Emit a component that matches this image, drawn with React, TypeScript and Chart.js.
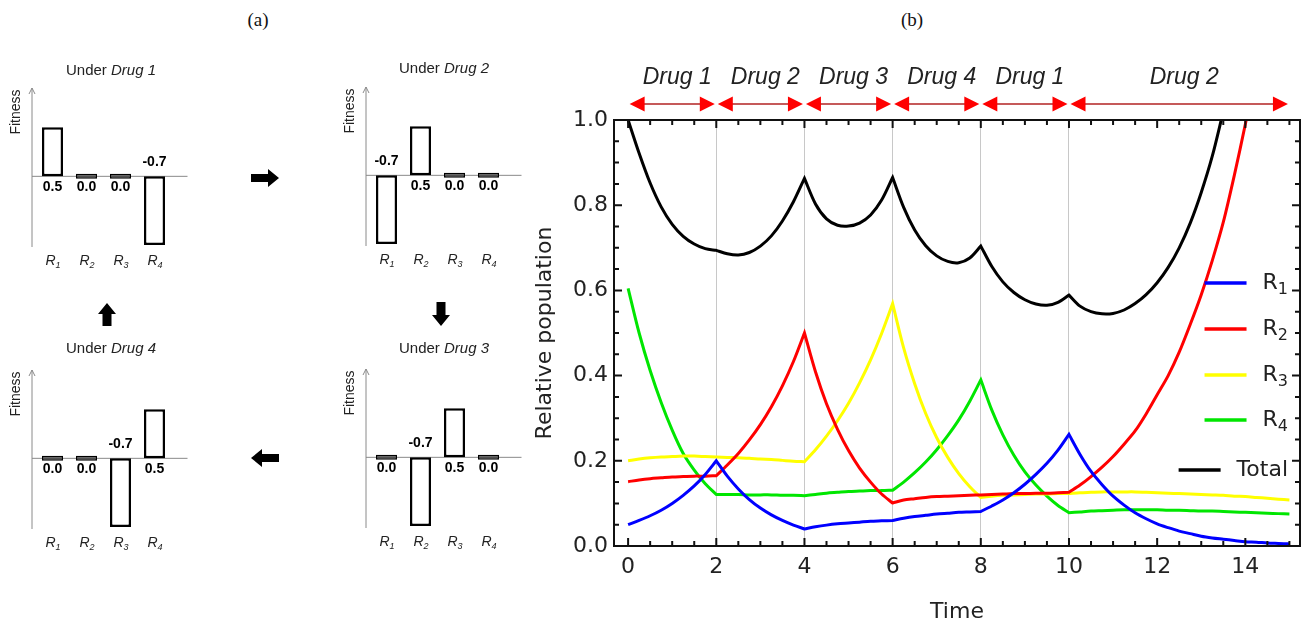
import React, { useEffect, useRef } from 'react';
import { Chart, registerables } from 'chart.js';

Chart.register(...registerables);

// ---------------- data: panel (b) ----------------
const times = [
  0, 0.25, 0.5, 0.75, 1, 1.25, 1.5, 1.75, 2,
  2.25, 2.5, 2.75, 3, 3.25, 3.5, 3.75, 4,
  4.25, 4.5, 4.75, 5, 5.25, 5.5, 5.75, 6,
  6.25, 6.5, 6.75, 7, 7.25, 7.5, 7.75, 8,
  8.25, 8.5, 8.75, 9, 9.25, 9.5, 9.75, 10,
  10.25, 10.5, 10.75, 11, 11.25, 11.5, 11.75, 12, 12.25, 12.5,
  12.75, 13, 13.25, 13.5, 13.75, 14, 14.25, 14.5, 14.75, 15,
];

const r1Values = [
  0.05, 0.06, 0.071, 0.084, 0.1, 0.119, 0.141, 0.168, 0.2,
  0.164, 0.134, 0.109, 0.089, 0.073, 0.06, 0.049, 0.04,
  0.045, 0.049, 0.052, 0.054, 0.056, 0.058, 0.059, 0.06,
  0.065, 0.069, 0.072, 0.075, 0.077, 0.079, 0.08, 0.081,
  0.094, 0.108, 0.125, 0.145, 0.168, 0.194, 0.225, 0.262,
  0.215, 0.175, 0.144, 0.117, 0.096, 0.078, 0.064, 0.052, 0.043, 0.035,
  0.029, 0.023, 0.019, 0.016, 0.013, 0.01, 0.009, 0.007, 0.006, 0.005,
];

const r2Values = [
  0.151, 0.155, 0.158, 0.16, 0.162, 0.163, 0.164, 0.164, 0.165,
  0.19, 0.217, 0.249, 0.285, 0.327, 0.376, 0.433, 0.5,
  0.409, 0.334, 0.274, 0.224, 0.183, 0.15, 0.122, 0.101,
  0.108, 0.111, 0.114, 0.116, 0.117, 0.118, 0.119, 0.12,
  0.121, 0.122, 0.123, 0.123, 0.124, 0.124, 0.125, 0.126,
  0.143, 0.163, 0.185, 0.21, 0.239, 0.27, 0.31, 0.355, 0.4, 0.455,
  0.52, 0.59, 0.67, 0.76, 0.87, 0.99, 1.12, null, null, null,
];

const r3Values = [
  0.2, 0.204, 0.207, 0.209, 0.21, 0.211, 0.211, 0.21, 0.209,
  0.208, 0.207, 0.206, 0.204, 0.203, 0.201, 0.199, 0.198,
  0.226, 0.258, 0.294, 0.335, 0.383, 0.437, 0.499, 0.569,
  0.465, 0.381, 0.311, 0.254, 0.208, 0.17, 0.139, 0.114,
  0.117, 0.119, 0.12, 0.121, 0.122, 0.122, 0.123, 0.123,
  0.125, 0.126, 0.127, 0.127, 0.127, 0.127, 0.126, 0.125, 0.124, 0.123,
  0.122, 0.121, 0.12, 0.119, 0.117, 0.116, 0.114, 0.112, 0.11, 0.108,
];

const r4Values = [
  0.605, 0.5, 0.412, 0.337, 0.272, 0.217, 0.178, 0.146, 0.121,
  0.121, 0.121, 0.12, 0.12, 0.12, 0.119, 0.119, 0.118,
  0.121, 0.124, 0.126, 0.128, 0.129, 0.13, 0.13, 0.131,
  0.15, 0.172, 0.197, 0.226, 0.259, 0.296, 0.34, 0.39,
  0.319, 0.261, 0.213, 0.174, 0.143, 0.117, 0.095, 0.078,
  0.08, 0.082, 0.083, 0.084, 0.085, 0.085, 0.085, 0.085, 0.084, 0.084,
  0.083, 0.082, 0.082, 0.081, 0.08, 0.079, 0.078, 0.077, 0.076, 0.075,
];

const totalValues = [
  1.0, 0.922, 0.852, 0.796, 0.755, 0.727, 0.709, 0.698, 0.694,
  0.686, 0.683, 0.689, 0.704, 0.728, 0.763, 0.808, 0.863,
  0.803, 0.768, 0.753, 0.751, 0.758, 0.777, 0.812, 0.865,
  0.795, 0.742, 0.705, 0.681, 0.668, 0.665, 0.676, 0.704,
  0.656, 0.62, 0.595, 0.578, 0.568, 0.565, 0.572, 0.589,
  0.563, 0.55, 0.545, 0.546, 0.554, 0.569, 0.59, 0.618, 0.654, 0.7,
  0.758, 0.83, 0.915, 1.02, null, null, null, null, null, null,
];

const seriesLabels = ['R1', 'R2', 'R3', 'R4', 'Total'];
const seriesColors = ['#0000ff', '#ff0000', '#ffff00', '#00e600', '#000000'];

const xTickValues = [0, 2, 4, 6, 8, 10, 12, 14];
const yTickValues = [0, 0.2, 0.4, 0.6, 0.8, 1.0];
const switchTimes = [2, 4, 6, 8, 10];

const drugLabels = ['Drug 1', 'Drug 2', 'Drug 3', 'Drug 4', 'Drug 1', 'Drug 2'];
const drugStarts = [0, 2, 4, 6, 8, 10];
const drugEnds = [2, 4, 6, 8, 10, 15];

// ---------------- data: panel (a) ----------------
const fitnessCategories = ['R1', 'R2', 'R3', 'R4'];
const fitnessUnderDrug1 = [0.5, 0.0, 0.0, -0.7];
const fitnessUnderDrug2 = [-0.7, 0.5, 0.0, 0.0];
const fitnessUnderDrug3 = [0.0, -0.7, 0.5, 0.0];
const fitnessUnderDrug4 = [0.0, 0.0, -0.7, 0.5];

// ---------------- styles ----------------
const SANS = '"Liberation Sans", Arial, sans-serif';
const DEJAVU = '"DejaVu Sans", sans-serif';
const TEXT = '#222222';
const legendRowOffsets = [163, 209, 255, 300, 350];

function splitSub(label: string): [string, string] {
  const m = /^(.*?)(\d+)$/.exec(label);
  return m ? [m[1], m[2]] : [label, ''];
}

// Points of one series; a reading taken at a drug switch is repeated so the
// spline keeps the sharp corner there.
function seriesPoints(vals: (number | null)[]) {
  const pts: { x: number; y: number | null }[] = [];
  times.forEach((t, j) => {
    pts.push({ x: t, y: vals[j] });
    if (switchTimes.includes(t)) pts.push({ x: t, y: vals[j] });
  });
  return pts;
}

// ---------------- plugins: panel (a) ----------------
const fitnessDecor = {
  id: 'fitnessDecor',
  beforeDatasetsDraw(chart: any) {
    const { ctx, chartArea: a, scales } = chart;
    const zero = scales.y.getPixelForValue(0);
    const ax = a.left - 3.5;
    ctx.save();
    ctx.strokeStyle = '#8a8a8a';
    ctx.lineWidth = 1;
    ctx.beginPath();
    ctx.moveTo(ax, a.bottom);
    ctx.lineTo(ax, a.top);
    ctx.moveTo(ax - 3, a.top + 6);
    ctx.lineTo(ax, a.top);
    ctx.lineTo(ax + 3, a.top + 6);
    ctx.moveTo(ax, zero);
    ctx.lineTo(a.right + 16, zero);
    ctx.stroke();
    ctx.translate(a.left - 19.5, a.top + 24);
    ctx.rotate(-Math.PI / 2);
    ctx.font = '14px ' + SANS;
    ctx.fillStyle = TEXT;
    ctx.textAlign = 'center';
    ctx.textBaseline = 'middle';
    ctx.fillText('Fitness', 0, 0);
    ctx.restore();
  },
  afterDatasetsDraw(chart: any) {
    const { ctx, chartArea: a } = chart;
    const meta = chart.getDatasetMeta(0);
    const values = chart.data.datasets[0].data as number[];
    const labels = chart.data.labels as string[];
    const zero = chart.scales.y.getPixelForValue(0);
    ctx.save();
    meta.data.forEach((bar: any, i: number) => {
      const v = values[i];
      ctx.font = 'bold 14px ' + SANS;
      ctx.fillStyle = '#000';
      ctx.textAlign = 'center';
      ctx.textBaseline = 'middle';
      ctx.fillText(v.toFixed(1), bar.x, v < 0 ? zero - 14 : zero + 11);
      const [base, sub] = splitSub(labels[i]);
      ctx.textAlign = 'left';
      ctx.textBaseline = 'alphabetic';
      ctx.fillStyle = TEXT;
      ctx.font = 'italic 14px ' + SANS;
      const wb = ctx.measureText(base).width;
      const x0 = bar.x - 7;
      ctx.fillText(base, x0, a.bottom + 18);
      ctx.font = 'italic 9px ' + SANS;
      ctx.fillText(sub, x0 + wb, a.bottom + 21);
    });
    ctx.restore();
  },
};

// ---------------- plugins: panel (b) ----------------
const frameTicks = {
  id: 'frameTicks',
  afterDatasetsDraw(chart: any) {
    const { ctx, chartArea: a, scales } = chart;
    const x = scales.x;
    const y = scales.y;
    ctx.save();
    ctx.strokeStyle = '#111';
    ctx.lineWidth = 2;
    ctx.strokeRect(a.left, a.top, a.right - a.left, a.bottom - a.top);
    ctx.beginPath();
    for (let k = 0; k <= 30; k++) {
      const px = x.getPixelForValue(k * 0.5);
      const len = k % 4 === 0 ? 8 : 5;
      ctx.moveTo(px, a.bottom);
      ctx.lineTo(px, a.bottom - len);
      ctx.moveTo(px, a.top);
      ctx.lineTo(px, a.top + len);
    }
    for (let k = 0; k <= 20; k++) {
      const py = y.getPixelForValue(k * 0.05);
      const len = k % 4 === 0 ? 8 : 5;
      ctx.moveTo(a.left, py);
      ctx.lineTo(a.left + len, py);
      ctx.moveTo(a.right, py);
      ctx.lineTo(a.right - len, py);
    }
    ctx.stroke();
    ctx.restore();
  },
};

const drugSchedule = {
  id: 'drugSchedule',
  afterDraw(chart: any) {
    const { ctx, chartArea: a, scales } = chart;
    const x = scales.x;
    const yArrow = a.top - 16;
    const yLabel = a.top - 42;
    ctx.save();
    drugLabels.forEach((label, i) => {
      const x0 = x.getPixelForValue(drugStarts[i]) + 1.5;
      const x1 = x.getPixelForValue(drugEnds[i]) - 1.5;
      ctx.strokeStyle = '#b22222';
      ctx.lineWidth = 1.3;
      ctx.beginPath();
      ctx.moveTo(x0 + 10, yArrow);
      ctx.lineTo(x1 - 10, yArrow);
      ctx.stroke();
      ctx.fillStyle = '#ff0000';
      ctx.beginPath();
      ctx.moveTo(x0, yArrow);
      ctx.lineTo(x0 + 15, yArrow - 7.5);
      ctx.lineTo(x0 + 15, yArrow + 7.5);
      ctx.closePath();
      ctx.fill();
      ctx.beginPath();
      ctx.moveTo(x1, yArrow);
      ctx.lineTo(x1 - 15, yArrow - 7.5);
      ctx.lineTo(x1 - 15, yArrow + 7.5);
      ctx.closePath();
      ctx.fill();
      ctx.fillStyle = TEXT;
      ctx.font = 'italic 23px ' + SANS;
      ctx.textAlign = 'center';
      ctx.textBaseline = 'middle';
      ctx.fillText(label, (x0 + x1) / 2 + 5, yLabel);
    });
    ctx.restore();
  },
};

const customLegend = {
  id: 'customLegend',
  afterDraw(chart: any) {
    const { ctx, chartArea: a } = chart;
    ctx.save();
    chart.data.datasets.forEach((ds: any, i: number) => {
      const y = a.top + legendRowOffsets[i];
      const [base, sub] = splitSub(ds.label);
      ctx.font = '22px ' + DEJAVU;
      const wb = ctx.measureText(base).width;
      ctx.font = '16px ' + DEJAVU;
      const ws = sub ? ctx.measureText(sub).width : 0;
      const start = a.right - 12 - wb - ws;
      ctx.strokeStyle = ds.borderColor;
      ctx.lineWidth = 3.5;
      ctx.beginPath();
      ctx.moveTo(start - 58, y);
      ctx.lineTo(start - 16, y);
      ctx.stroke();
      ctx.fillStyle = TEXT;
      ctx.textAlign = 'left';
      ctx.textBaseline = 'middle';
      ctx.font = '22px ' + DEJAVU;
      ctx.fillText(base, start, y);
      if (sub) {
        ctx.font = '16px ' + DEJAVU;
        ctx.fillText(sub, start + wb, y + 7);
      }
    });
    ctx.restore();
  },
};

// ---------------- components ----------------
function FitnessPanel(props: {
  values: number[];
  left: number;
  top: number;
  drugName: string;
  titleX: number;
  titleY: number;
}) {
  const ref = useRef<HTMLCanvasElement>(null);
  const { values, left, top, drugName, titleX, titleY } = props;
  useEffect(() => {
    const chart = new Chart(ref.current as HTMLCanvasElement, {
      type: 'bar',
      data: {
        labels: fitnessCategories,
        datasets: [
          {
            data: values,
            backgroundColor: (c: any) => (values[c.dataIndex] === 0 ? '#505050' : '#ffffff'),
            borderColor: '#000000',
            borderWidth: (c: any) => (values[c.dataIndex] === 0 ? 1.5 : 2.5),
            borderSkipped: false,
            minBarLength: 5,
            barPercentage: 0.62,
            categoryPercentage: 1,
          } as any,
        ],
      },
      options: {
        responsive: false,
        animation: false,
        layout: { padding: { left: 35.5, right: 28.5, top: 38, bottom: 33 } },
        plugins: { legend: { display: false }, tooltip: { enabled: false } },
        scales: {
          x: { display: false },
          y: { display: false, min: -0.72, max: 0.9 },
        },
      },
      plugins: [fitnessDecor],
    });
    return () => chart.destroy();
  }, []);
  return (
    <>
      <canvas
        ref={ref}
        width={200}
        height={230}
        style={{ position: 'absolute', left, top, width: 200, height: 230 }}
      />
      <div
        style={{
          position: 'absolute',
          left: titleX,
          top: titleY,
          transform: 'translate(-50%, -50%)',
          font: '15px ' + SANS,
          color: TEXT,
          whiteSpace: 'nowrap',
          lineHeight: 1,
        }}
      >
        Under <i>{drugName}</i>
      </div>
    </>
  );
}

function PopulationChart() {
  const ref = useRef<HTMLCanvasElement>(null);
  useEffect(() => {
    const seriesValues = [r1Values, r2Values, r3Values, r4Values, totalValues];
    const chart = new Chart(ref.current as HTMLCanvasElement, {
      type: 'line',
      data: {
        datasets: seriesValues.map((vals, i) => ({
          label: seriesLabels[i],
          data: seriesPoints(vals),
          borderColor: seriesColors[i],
          backgroundColor: seriesColors[i],
          borderWidth: 3,
          pointRadius: 0,
          tension: 0.3,
          fill: false,
          spanGaps: false,
        })) as any,
      },
      options: {
        responsive: false,
        animation: false,
        layout: { padding: { left: 0, right: 7, top: 120, bottom: 0 } },
        plugins: { legend: { display: false }, tooltip: { enabled: false } },
        scales: {
          x: {
            type: 'linear',
            min: -0.32,
            max: 15.24,
            afterBuildTicks: (s: any) => {
              s.ticks = xTickValues.map((v) => ({ value: v }));
            },
            afterFit: (s: any) => {
              s.height = 82;
            },
            ticks: {
              font: { family: DEJAVU, size: 22 },
              color: TEXT,
              padding: 8,
              maxRotation: 0,
              autoSkip: false,
              callback: (v: any) => String(v),
            },
            grid: {
              drawTicks: false,
              lineWidth: 1,
              color: (c: any) =>
                c.tick && switchTimes.includes(c.tick.value) ? '#c8c8c8' : 'rgba(0,0,0,0)',
            },
            border: { display: false },
            title: {
              display: true,
              text: 'Time',
              font: { family: DEJAVU, size: 22 },
              color: TEXT,
              padding: { top: 0, bottom: 3 },
            },
          },
          y: {
            type: 'linear',
            min: 0,
            max: 1,
            afterBuildTicks: (s: any) => {
              s.ticks = yTickValues.map((v) => ({ value: v }));
            },
            afterFit: (s: any) => {
              s.width = 94;
            },
            ticks: {
              font: { family: DEJAVU, size: 22 },
              color: TEXT,
              padding: 6,
              callback: (v: any) => Number(v).toFixed(1),
            },
            grid: { display: false, drawTicks: false },
            border: { display: false },
            title: {
              display: true,
              text: 'Relative population',
              font: { family: DEJAVU, size: 22 },
              color: TEXT,
              padding: { top: 12, bottom: 0 },
            },
          },
        },
      },
      plugins: [frameTicks, drugSchedule, customLegend],
    });
    return () => chart.destroy();
  }, []);
  return (
    <canvas
      ref={ref}
      width={787}
      height={628}
      style={{ position: 'absolute', left: 520, top: 0, width: 787, height: 628 }}
    />
  );
}

const panelLabelStyle = (x: number, y: number): React.CSSProperties => ({
  position: 'absolute',
  left: x,
  top: y,
  transform: 'translate(-50%, -50%)',
  font: '19px "Liberation Serif", "DejaVu Serif", serif',
  color: '#111',
  lineHeight: 1,
  whiteSpace: 'nowrap',
});

export default function App() {
  return (
    <div
      style={{
        position: 'absolute',
        left: 0,
        top: 0,
        width: 1307,
        height: 628,
        background: '#ffffff',
        overflow: 'hidden',
      }}
    >
      <div style={panelLabelStyle(258, 19)}>(a)</div>
      <div style={panelLabelStyle(912, 19)}>(b)</div>

      <FitnessPanel values={fitnessUnderDrug1} left={0} top={50} drugName="Drug 1" titleX={111} titleY={69} />
      <FitnessPanel values={fitnessUnderDrug2} left={333.7} top={49} drugName="Drug 2" titleX={444} titleY={67} />
      <FitnessPanel values={fitnessUnderDrug3} left={333.7} top={330.7} drugName="Drug 3" titleX={444} titleY={347} />
      <FitnessPanel values={fitnessUnderDrug4} left={0} top={332.2} drugName="Drug 4" titleX={111} titleY={347} />

      <svg
        width={1307}
        height={628}
        style={{ position: 'absolute', left: 0, top: 0, pointerEvents: 'none' }}
      >
        <polygon points="251,174 268,174 268,169 279,178 268,187 268,182 251,182" fill="#000" />
        <polygon points="279,454 262,454 262,449 251,458 262,467 262,462 279,462" fill="#000" />
        <polygon points="107,303 116,314 111.5,314 111.5,326 102.5,326 102.5,314 98,314" fill="#000" />
        <polygon points="441,326 432,315 436.5,315 436.5,302 445.5,302 445.5,315 450,315" fill="#000" />
      </svg>

      <PopulationChart />
    </div>
  );
}
